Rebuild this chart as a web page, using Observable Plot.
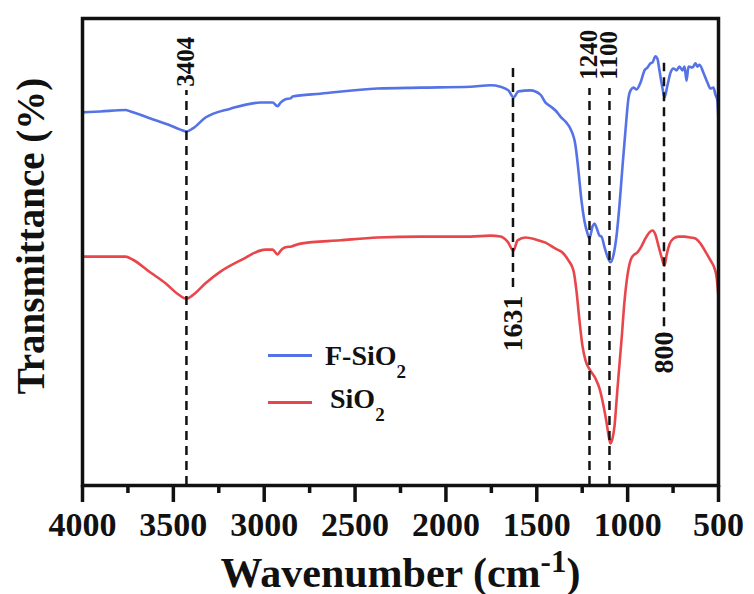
<!DOCTYPE html>
<html><head><meta charset="utf-8">
<script src="https://cdn.jsdelivr.net/npm/d3@7"></script>
<script src="https://cdn.jsdelivr.net/npm/@observablehq/plot@0.6"></script>
<style>
body{margin:0;background:#fff;}
#wrap{position:relative;width:754px;height:594px;font-family:"Liberation Serif","Times New Roman",serif;font-weight:bold;}
.leg{position:absolute;font-size:28px;line-height:28px;white-space:nowrap;color:#111;}
.sw{position:absolute;width:44px;height:0;border-top:3px solid;}
.leg sub{font-size:19px;vertical-align:baseline;position:relative;top:13px;}
</style></head><body><div id="wrap"></div>
<script>
// F-SiO2 spectrum (wavenumber, transmittance a.u.)
const fWave = [4000,3901,3763,3736,3626,3516,3461,3428,3395,3323,3186,3020,2954,2927,2910,2883,2855,2844,2690,2377,2140,1865,1755,1700,1656,1628,1601,1535,1480,1452,1425,1397,1370,1337,1315,1287,1271,1254,1238,1221,1210,1193,1182,1171,1155,1144,1127,1111,1094,1078,1061,1045,1028,1012,995,984,968,951,929,907,891,874,863,847,836,825,808,797,781,764,748,731,715,698,687,676,665,643,627,616,605,583,561,544,528,517,506,500];
const fTrans = [79.9,80.1,80.4,80.1,78.6,77.1,76.2,75.8,76.4,78.8,80.7,82.0,82.0,81.2,82.0,82.7,82.9,83.3,83.9,85.0,85.2,85.4,85.7,85.4,84.6,83.1,84.4,84.6,83.7,82.0,81.2,80.3,79.0,77.7,76.4,72.8,67.5,61.0,56.7,54.0,52.9,55.5,56.1,55.2,53.5,53.3,51.0,49.0,47.8,49.3,53.5,60.0,68.5,76.0,83.1,84.6,85.2,84.8,86.3,88.9,89.5,90.4,90.6,91.9,91.4,88.9,85.0,83.1,85.7,88.4,89.3,88.9,89.7,88.9,89.7,86.7,89.7,89.5,90.4,89.7,90.1,88.4,86.3,85.0,85.2,83.7,82.4,77.7];
// SiO2 spectrum
const sWave = [4000,3901,3763,3725,3626,3543,3472,3428,3395,3323,3241,3131,2993,2954,2927,2905,2883,2850,2800,2580,2377,2140,1865,1755,1700,1661,1628,1606,1562,1507,1452,1397,1359,1326,1298,1282,1265,1249,1232,1205,1177,1155,1133,1116,1105,1094,1083,1072,1061,1050,1034,1017,1001,984,968,946,924,902,880,863,847,831,814,797,786,770,748,720,687,654,627,599,572,544,522,511,500];
const sTrans = [49.0,49.0,49.0,48.4,45.6,43.3,40.9,40.0,40.7,43.3,45.8,48.2,50.5,50.5,49.5,50.5,51.0,51.2,51.8,52.5,53.1,53.3,53.3,53.5,53.3,52.2,50.3,52.5,53.1,52.7,52.0,50.7,49.9,48.2,46.0,41.8,35.3,30.0,26.8,24.6,22.9,20.8,17.1,13.5,10.7,9.0,10.1,12.8,18.2,23.6,31.0,39.6,45.0,48.2,49.3,49.9,51.2,52.9,54.2,54.6,53.7,51.4,49.0,47.1,49.3,51.6,52.9,53.3,53.3,53.1,52.9,51.8,50.1,48.2,46.5,44.8,40.3];

const seriesNames = ["F-SiO2", "SiO2"];
const seriesColors = ["#5572e6", "#e8464b"];

// Peak annotations
const peakLabels = ["3404", "1631", "1240", "1100", "800"];
const peakPos = [3428, 1631, 1210, 1100, 800];
const ruleTop = [84.6, 89.3, 85.0, 85.0, 90.4];
const ruleBottom = [0, 42.4, 0, 0, 34.0];
const labelY = [85.4, 28.7, 86.9, 86.9, 24.0];
const labelAbove = [true, false, true, true, false];

const majorTicks = [4000, 3500, 3000, 2500, 2000, 1500, 1000, 500];
const minorTicks = [3750, 3250, 2750, 2250, 1750, 1250, 750];

const xTitle = "Wavenumber (cm-1)";
const yTitle = "Transmittance (%)";

const fData = fWave.map((w, i) => ({w, t: fTrans[i]}));
const sData = sWave.map((w, i) => ({w, t: sTrans[i]}));
const peaks = peakLabels.map((label, i) => ({label, pos: peakPos[i], top: ruleTop[i], bottom: ruleBottom[i], ly: labelY[i], above: labelAbove[i]}));

const svg = Plot.plot({
  width: 754, height: 594,
  marginLeft: 82, marginRight: 36, marginTop: 18, marginBottom: 109,
  style: {fontFamily: "'Liberation Serif','Times New Roman',serif", fontWeight: "bold", background: "#fff", color: "#111"},
  x: {domain: [4000, 500]},
  y: {domain: [0, 100], axis: null},
  marks: [
    Plot.line(fData, {x: "w", y: "t", stroke: seriesColors[0], strokeWidth: 2.6, curve: "monotone-x"}),
    Plot.line(sData, {x: "w", y: "t", stroke: seriesColors[1], strokeWidth: 2.6, curve: "monotone-x"}),
    Plot.ruleX(peaks, {x: "pos", y1: "bottom", y2: "top", stroke: "#111", strokeWidth: 2.5, strokeDasharray: "9,6"}),
    Plot.text(peaks.filter(d => d.above), {x: "pos", y: "ly", text: "label", rotate: -90, textAnchor: "start", lineAnchor: "middle", fontSize: 25, fill: "#111"}),
    Plot.text(peaks.filter(d => !d.above), {x: "pos", y: "ly", text: "label", rotate: -90, textAnchor: "start", lineAnchor: "middle", fontSize: 28, fill: "#111"}),
    Plot.frame({stroke: "#111", strokeWidth: 3.5}),
    Plot.axisX(majorTicks, {tickSize: 17, tickPadding: 9, tickFormat: d => String(d), fontSize: 34, strokeWidth: 3.5, stroke: "#111", fill: "#111", label: null}),
    Plot.axisX(minorTicks, {tickSize: 8, tickFormat: () => "", strokeWidth: 3.5, stroke: "#111", label: null}),
    Plot.text([xTitle], {frameAnchor: "bottom", textAnchor: "middle", dy: 101, lineAnchor: "bottom", fontSize: 42, fill: "#111"}),
    Plot.text([yTitle], {frameAnchor: "left", textAnchor: "middle", dx: -39, dy: -16, rotate: -90, lineAnchor: "bottom", fontSize: 39, fill: "#111"})
  ]
});

// superscript in x title
const t = d3.select(svg).selectAll("text").filter(function() { return this.textContent === xTitle; });
t.text(null);
t.append("tspan").text("Wavenumber (cm");
t.append("tspan").attr("dy", -15).style("font-size", "31px").text("-1");
t.append("tspan").attr("dy", 15).text(")");

const wrap = document.getElementById("wrap");
wrap.appendChild(svg);

// legend
const legRows = [
  {name: seriesNames[0], color: seriesColors[0], lineTop: 353.5, textLeft: 325, textTop: 341.5},
  {name: seriesNames[1], color: seriesColors[1], lineTop: 400.5, textLeft: 330, textTop: 384.5}
];
legRows.forEach(r => {
  const sw = document.createElement("div");
  sw.className = "sw";
  sw.style.left = "268px"; sw.style.top = r.lineTop + "px"; sw.style.borderTopColor = r.color;
  wrap.appendChild(sw);
  const tx = document.createElement("div");
  tx.className = "leg";
  tx.style.left = r.textLeft + "px"; tx.style.top = r.textTop + "px";
  tx.innerHTML = r.name.replace(/2$/, "<sub>2</sub>");
  wrap.appendChild(tx);
});
</script></body></html>
